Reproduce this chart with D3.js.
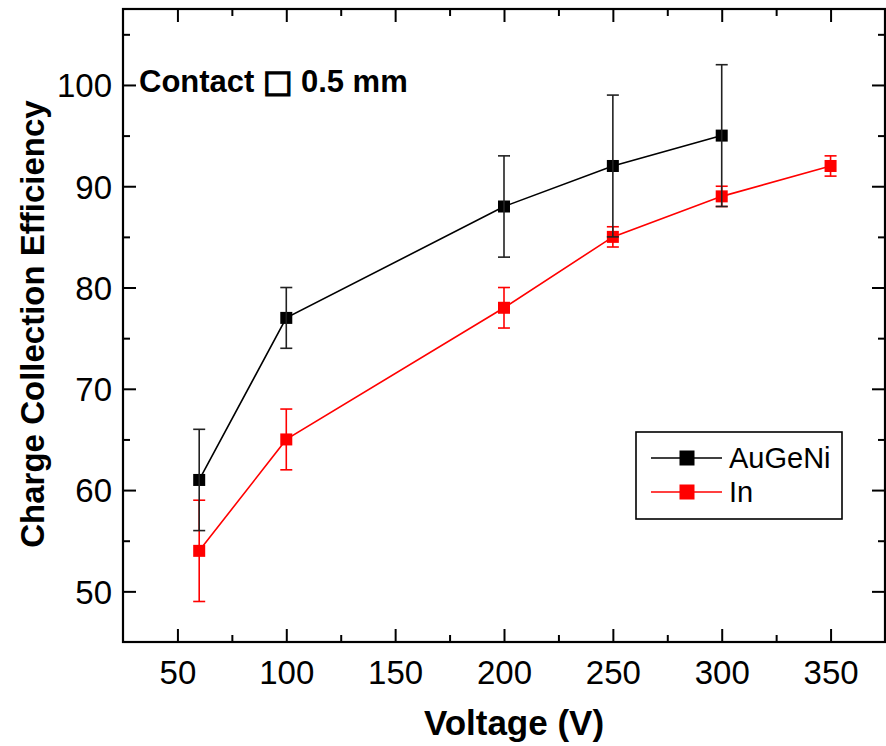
<!DOCTYPE html>
<html>
<head>
<meta charset="utf-8">
<script src="https://cdn.jsdelivr.net/npm/d3@7"></script>
<style>
  html, body { margin: 0; padding: 0; background: #fff; }
  svg { display: block; font-family: "Liberation Sans", Arial, sans-serif; }
</style>
</head>
<body>
<svg id="chart" width="886" height="746"></svg>
<script>
// ---- data ----
const voltagesAu = [60, 100, 200, 250, 300];
const cceAu      = [61, 77, 88, 92, 95];
const errAu      = [5, 3, 5, 7, 7];

const voltagesIn = [60, 100, 200, 250, 300, 350];
const cceIn      = [54, 65, 78, 85, 89, 92];
const errIn      = [5, 3, 2, 1, 1, 1];

const seriesNames = ["AuGeNi", "In"];
const seriesColors = ["#000000", "#ff0000"];
const xTicks = [50, 100, 150, 200, 250, 300, 350];
const xMinor = [75, 125, 175, 225, 275, 325];
const yTicks = [50, 60, 70, 80, 90, 100];
const yMinor = [55, 65, 75, 85, 95, 105];

// ---- layout ----
const svg = d3.select("#chart");
const L = 123, R = 885, T = 9, B = 642;
const x = d3.scaleLinear().domain([25, 375]).range([L, R]);
const y = d3.scaleLinear().domain([45, 107.5]).range([B, T]);

const majorLen = 13, minorLen = 7;

// axes (ticks inward on all four sides)
function axisGroup(axisFn, tr) {
  const g = svg.append("g").attr("transform", tr).call(axisFn);
  g.select(".domain").remove();
  g.selectAll("line").attr("stroke", "#000").attr("stroke-width", 2);
  return g;
}
// bottom
const gb = axisGroup(d3.axisBottom(x).tickValues(xTicks).tickSize(-majorLen).tickPadding(majorLen + 6).tickFormat(d3.format("d")), `translate(0,${B})`);
gb.selectAll("text").attr("font-size", 33).attr("fill", "#000").attr("font-family", "Liberation Sans, Arial, sans-serif");
axisGroup(d3.axisBottom(x).tickValues(xMinor).tickSize(-minorLen).tickFormat(""), `translate(0,${B})`);
// top
axisGroup(d3.axisTop(x).tickValues(xTicks).tickSize(-majorLen).tickFormat(""), `translate(0,${T})`);
axisGroup(d3.axisTop(x).tickValues(xMinor).tickSize(-minorLen).tickFormat(""), `translate(0,${T})`);
// left
const gl = axisGroup(d3.axisLeft(y).tickValues(yTicks).tickSize(-majorLen).tickPadding(11).tickFormat(d3.format("d")), `translate(${L},0)`);
gl.selectAll("text").attr("font-size", 33).attr("fill", "#000").attr("font-family", "Liberation Sans, Arial, sans-serif").attr("dy", "0.36em");
axisGroup(d3.axisLeft(y).tickValues(yMinor).tickSize(-minorLen).tickFormat(""), `translate(${L},0)`);
// right
axisGroup(d3.axisRight(y).tickValues(yTicks).tickSize(-majorLen).tickFormat(""), `translate(${R},0)`);
axisGroup(d3.axisRight(y).tickValues(yMinor).tickSize(-minorLen).tickFormat(""), `translate(${R},0)`);

// frame
svg.append("rect").attr("x", L).attr("y", T).attr("width", R - L).attr("height", B - T)
  .attr("fill", "none").attr("stroke", "#000").attr("stroke-width", 2.2);

// ---- series ----
const line = d3.line().x(d => x(d.v)).y(d => y(d.c));
function drawSeries(vs, cs, es, color, barColor) {
  const data = vs.map((v, i) => ({ v, c: cs[i], e: es[i] }));
  const g = svg.append("g");
  g.append("path").datum(data).attr("d", line).attr("fill", "none")
    .attr("stroke", color).attr("stroke-width", 1.6);
  const cap = 6;
  const eb = g.selectAll(".eb").data(data).enter().append("g");
  eb.append("line").attr("x1", d => x(d.v)).attr("x2", d => x(d.v))
    .attr("y1", d => y(d.c - d.e)).attr("y2", d => y(d.c + d.e))
    .attr("stroke", barColor).attr("stroke-width", 1.6);
  eb.append("line").attr("x1", d => x(d.v) - cap).attr("x2", d => x(d.v) + cap)
    .attr("y1", d => y(d.c + d.e)).attr("y2", d => y(d.c + d.e))
    .attr("stroke", barColor).attr("stroke-width", 1.6);
  eb.append("line").attr("x1", d => x(d.v) - cap).attr("x2", d => x(d.v) + cap)
    .attr("y1", d => y(d.c - d.e)).attr("y2", d => y(d.c - d.e))
    .attr("stroke", barColor).attr("stroke-width", 1.6);
  const s = 12;
  g.selectAll(".m").data(data).enter().append("rect")
    .attr("x", d => x(d.v) - s / 2).attr("y", d => y(d.c) - s / 2)
    .attr("width", s).attr("height", s).attr("fill", color);
  return eb;
}
drawSeries(voltagesIn, cceIn, errIn, seriesColors[1], seriesColors[1]);
const ebAu = drawSeries(voltagesAu, cceAu, errAu, seriesColors[0], "#222");
ebAu.raise();

// ---- titles ----
svg.append("text").attr("x", 514).attr("y", 735).attr("text-anchor", "middle")
  .attr("font-size", 35).attr("font-weight", "bold").attr("fill", "#000").text("Voltage (V)");
svg.append("text").attr("transform", "translate(44,324) rotate(-90)").attr("text-anchor", "middle")
  .attr("font-size", 33).attr("font-weight", "bold").attr("fill", "#000").text("Charge Collection Efficiency");

// annotation
const ann = svg.append("text").attr("x", 139).attr("y", 92)
  .attr("font-size", 31).attr("font-weight", "bold").attr("fill", "#000");
ann.append("tspan").text("Contact ");
ann.append("tspan").attr("font-family", "DejaVu Sans").attr("font-weight", "bold")
  .attr("stroke", "#000").attr("stroke-width", 1.6).text("□");
ann.append("tspan").text(" 0.5 mm");

// ---- legend ----
const lg = svg.append("g");
lg.append("rect").attr("x", 636).attr("y", 432).attr("width", 206).attr("height", 87)
  .attr("fill", "#fff").attr("stroke", "#000").attr("stroke-width", 1.6);
seriesNames.forEach((n, i) => {
  const cy = 458 + i * 34;
  lg.append("line").attr("x1", 651).attr("x2", 722).attr("y1", cy).attr("y2", cy)
    .attr("stroke", seriesColors[i]).attr("stroke-width", 1.6);
  lg.append("rect").attr("x", 687 - 7.5).attr("y", cy - 7.5).attr("width", 15).attr("height", 15)
    .attr("fill", seriesColors[i]);
  lg.append("text").attr("x", 729).attr("y", cy + 10).attr("font-size", 29).attr("fill", "#000").text(n);
});
</script>
</body>
</html>
